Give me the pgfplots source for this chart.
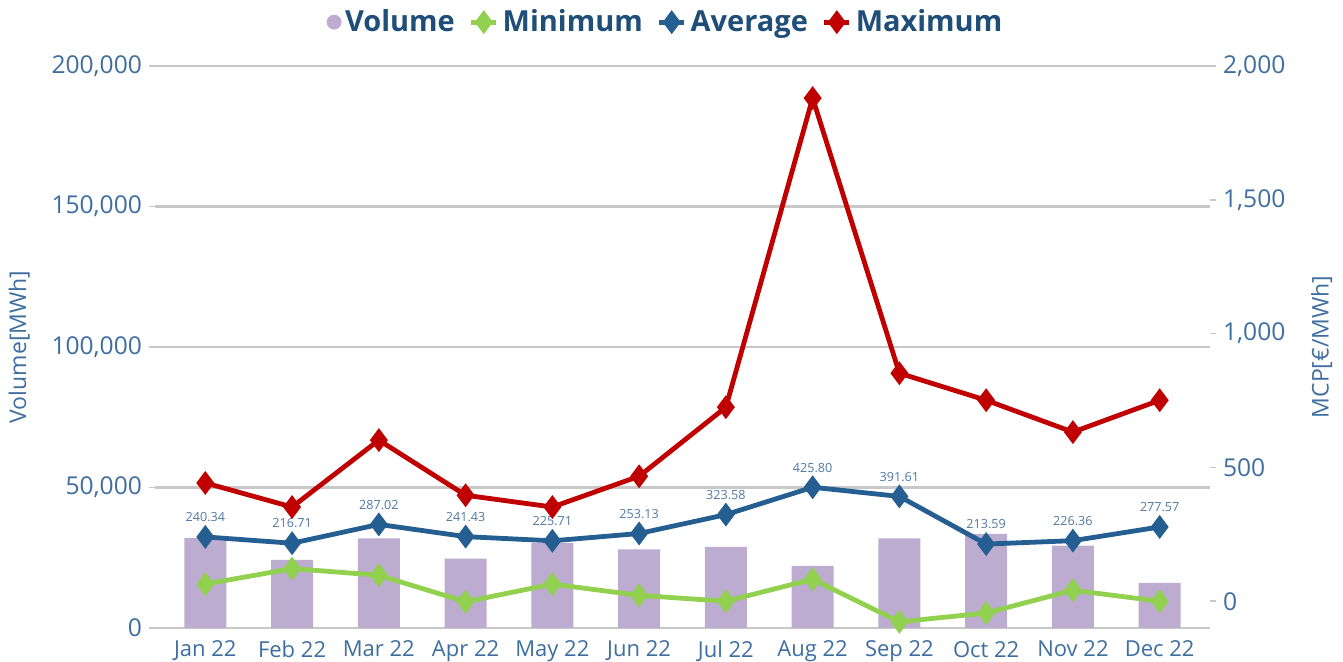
\documentclass[border=0pt]{standalone}
\usepackage{fontspec}
\setmainfont{Open Sans}
\usepackage{pgfplots}
\pgfplotsset{compat=1.18}

\definecolor{volcolor}{RGB}{188,172,208}
\definecolor{mincolor}{RGB}{146,208,80}
\definecolor{avgcolor}{RGB}{37,94,145}
\definecolor{maxcolor}{RGB}{192,0,0}
\definecolor{tickcolor}{RGB}{62,110,160}
\definecolor{legcolor}{RGB}{31,78,121}
\definecolor{gridcolor}{RGB}{200,200,200}
\definecolor{labcolor}{RGB}{80,120,165}

\pgfplotsset{
  common/.style={
    scale only axis, width=527.5pt, height=281pt,
    at={(0,0)}, anchor=south west,
    xmin=-0.58, xmax=11.58,
    /pgf/number format/assume math mode=true,
    tick align=outside, major tick length=3pt,
    ytick style={gridcolor, line width=0.8pt},
    yticklabel style={font=\fontsize{12.3}{14}\selectfont, text=tickcolor},
    ylabel style={font=\fontsize{11.5}{13}\selectfont, text=tickcolor},
  }
}

\begin{document}
\begin{tikzpicture}
\path[use as bounding box] (-77.5pt,-17pt) rectangle (594pt,314pt);

% left axis: volume bars
\begin{axis}[
    common,
    ymin=0, ymax=200000,
    ytick={0,50000,...,200000},
    scaled y ticks=false,
    yticklabel style={/pgf/number format/fixed, /pgf/number format/1000 sep={,}},
    axis x line*=bottom, axis y line*=left,
    y axis line style={draw=none},
    x axis line style={gridcolor, line width=1.2pt},
    ymajorgrids, major grid style={gridcolor, line width=1.1pt},
    xtick={0,...,11},
    xticklabels={Jan 22,Feb 22,Mar 22,Apr 22,May 22,Jun 22,Jul 22,Aug 22,Sep 22,Oct 22,Nov 22,Dec 22},
    xtick style={draw=none},
    xticklabel style={font=\fontsize{11}{13}\selectfont, text=tickcolor},
    ylabel={Volume[MWh]},
    ylabel style={yshift=4pt},
]
\addplot[ybar, bar width=21pt, fill=volcolor, draw=none] coordinates {
  (0,32100) (1,24200) (2,31900) (3,24700) (4,30300) (5,28000)
  (6,28900) (7,22100) (8,31900) (9,33500) (10,29300) (11,16100)
};
\end{axis}

% right axis: MCP lines
\begin{axis}[
    common,
    ymin=-100, ymax=2000,
    ytick={0,500,...,2000},
    yticklabel style={/pgf/number format/1000 sep={,}},
    axis x line=none, axis y line*=right,
    y axis line style={draw=none},
    ylabel={MCP[€/MWh]},
    ylabel style={yshift=-6pt},
    legend style={at={(rel axis cs:0.485,1.078)}, anchor=center, draw=none, fill=none,
      font=\bfseries\fontsize{14.5}{16}\selectfont, text=legcolor,
      /tikz/every even column/.append style={column sep=5pt}},
    legend columns=-1,
    legend image code/.code={\draw[mark repeat=2, mark phase=2] plot coordinates {(0cm,0cm) (0.22cm,0cm) (0.44cm,0cm)};},
]
\addlegendimage{only marks, mark=*, mark size=3.5pt, volcolor}
\addlegendentry{Volume}

\addplot[mincolor, line width=2.4pt, mark=diamond*, mark size=4pt] coordinates {
  (0,64) (1,122) (2,97) (3,-2) (4,64) (5,22)
  (6,0) (7,82) (8,-77) (9,-44) (10,41) (11,0)
};
\addlegendentry{Minimum}

\addplot[avgcolor, line width=2.4pt, mark=diamond*, mark size=4pt,
    nodes near coords, point meta=explicit symbolic,
    every node near coord/.append style={font=\fontsize{6.3}{7}\selectfont, text=labcolor, yshift=3pt}]
  coordinates {
  (0,240.34)[240.34] (1,216.71)[216.71] (2,287.02)[287.02] (3,241.43)[241.43]
  (4,225.71)[225.71] (5,253.13)[253.13] (6,323.58)[323.58] (7,425.80)[425.80]
  (8,391.61)[391.61] (9,213.59)[213.59] (10,226.36)[226.36] (11,277.57)[277.57]
};
\addlegendentry{Average}

\addplot[maxcolor, line width=2.4pt, mark=diamond*, mark size=4pt] coordinates {
  (0,442) (1,352) (2,602) (3,396) (4,352) (5,467)
  (6,725) (7,1880) (8,852) (9,751) (10,632) (11,751)
};
\addlegendentry{Maximum}
\end{axis}
\end{tikzpicture}
\end{document}
